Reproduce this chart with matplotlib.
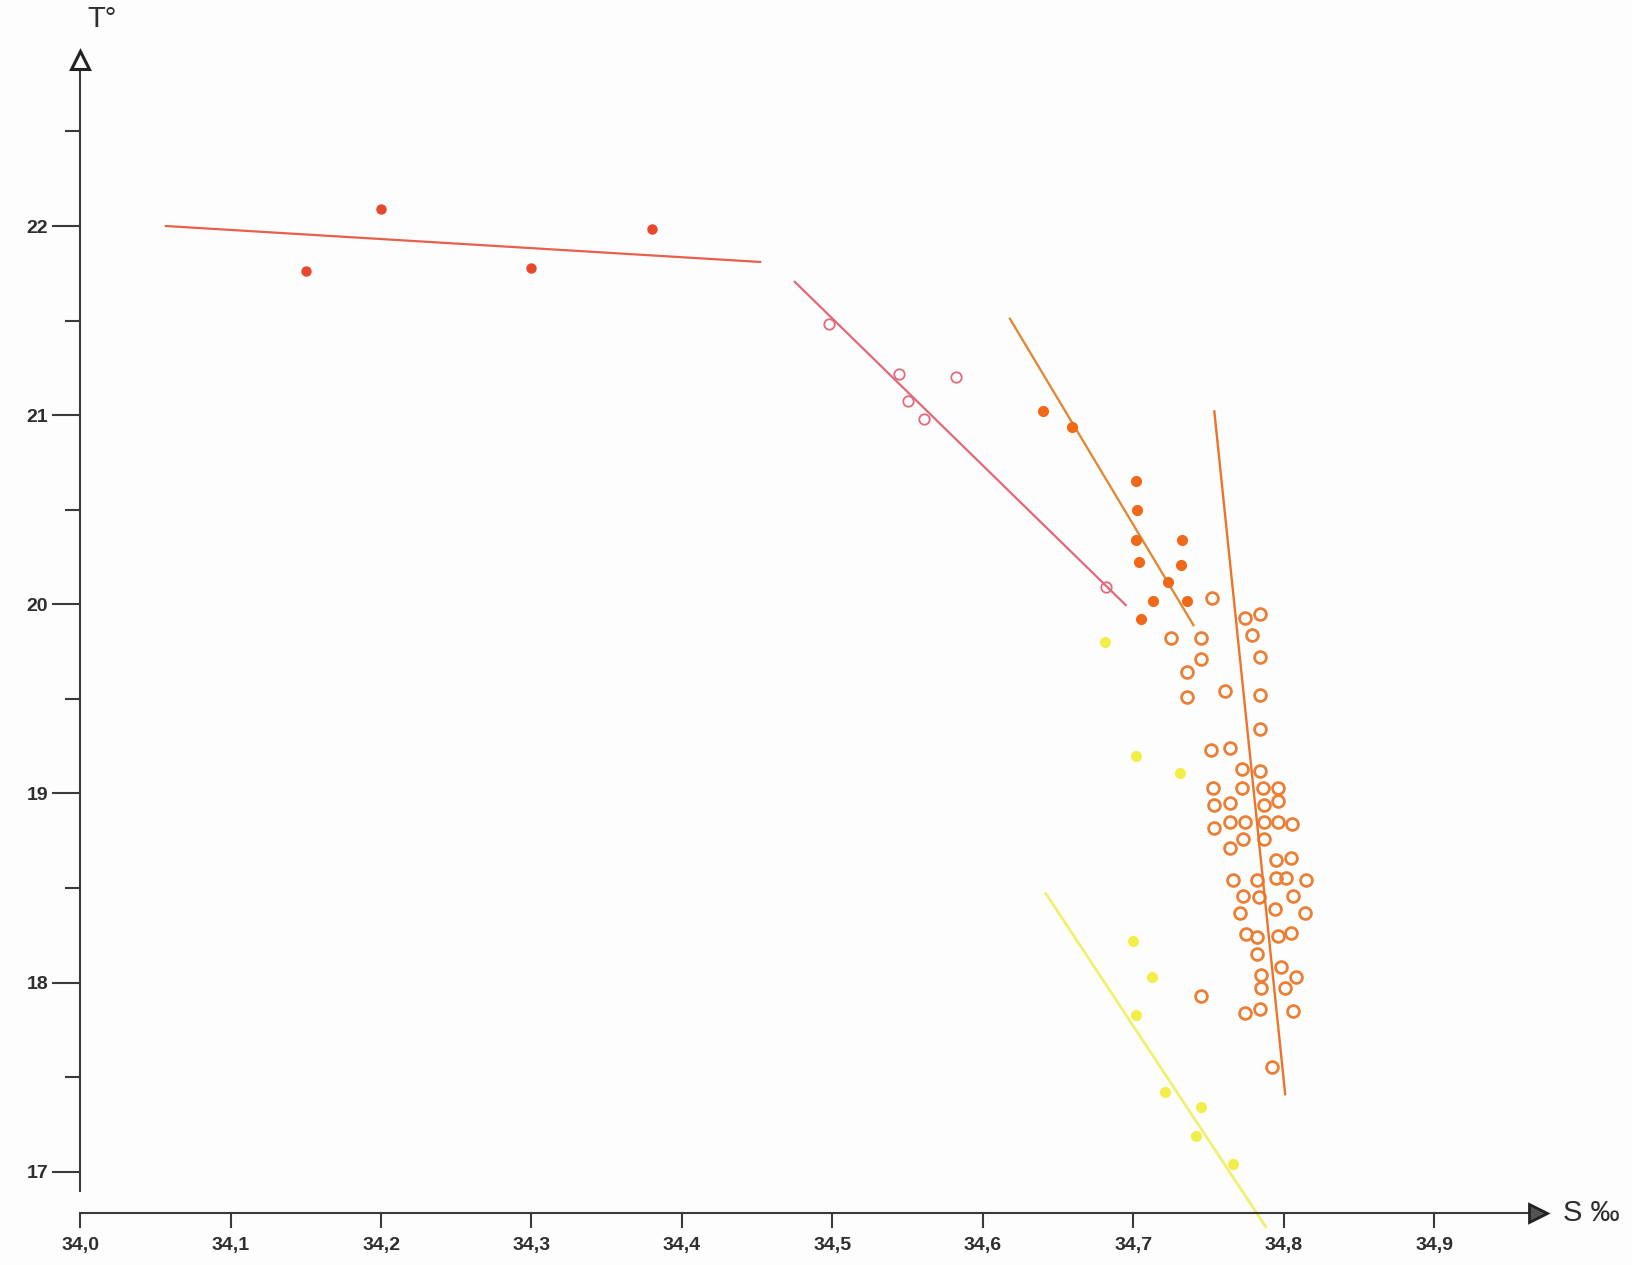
import matplotlib
matplotlib.use("Agg")
import matplotlib.pyplot as plt

plt.rcParams['font.family'] = ['Liberation Sans', 'DejaVu Sans']

# axis ticks
y_major = [17, 18, 19, 20, 21, 22]
y_minor = [17.5, 18.5, 19.5, 20.5, 21.5, 22.5]
x_ticks = [34.0, 34.1, 34.2, 34.3, 34.4, 34.5, 34.6, 34.7, 34.8, 34.9]
x_labels = ["34,0", "34,1", "34,2", "34,3", "34,4", "34,5", "34,6", "34,7", "34,8", "34,9"]

# group 1 - red filled dots
red_s = [34.150, 34.200, 34.300, 34.380]
red_t = [21.76, 22.09, 21.78, 21.985]
red_line_s = [34.057, 34.452]
red_line_t = [22.0, 21.81]

# group 2 - pink open circles
pink_s = [34.498, 34.544, 34.550, 34.561, 34.582, 34.682]
pink_t = [21.48, 21.22, 21.075, 20.98, 21.20, 20.09]
pink_line_s = [34.475, 34.695]
pink_line_t = [21.705, 19.996]

# group 3 - orange filled dots
orf_s = [34.640, 34.659, 34.7015, 34.7025, 34.7015, 34.704, 34.7324, 34.732,
         34.723, 34.713, 34.736, 34.705]
orf_t = [21.02, 20.94, 20.65, 20.50, 20.34, 20.225, 20.34, 20.21,
         20.12, 20.02, 20.02, 19.92]
orf_line_s = [34.618, 34.740]
orf_line_t = [21.51, 19.89]

# group 4 - orange open circles
oro_s = [34.7526, 34.774, 34.784, 34.779, 34.725, 34.745, 34.745, 34.784,
         34.736, 34.736, 34.761, 34.784, 34.784, 34.752, 34.764, 34.772,
         34.784, 34.753, 34.772, 34.786, 34.796, 34.754, 34.764, 34.787,
         34.796, 34.754, 34.764, 34.7745, 34.787, 34.796, 34.8055, 34.773,
         34.787, 34.764, 34.795, 34.805, 34.766, 34.782, 34.795, 34.8016,
         34.815, 34.773, 34.7836, 34.806, 34.771, 34.794, 34.814, 34.775,
         34.7825, 34.796, 34.805, 34.782, 34.798, 34.785, 34.808, 34.785,
         34.8006, 34.745, 34.7745, 34.784, 34.806, 34.792]
oro_t = [20.035, 19.93, 19.95, 19.84, 19.82, 19.82, 19.71, 19.72,
         19.64, 19.51, 19.54, 19.52, 19.34, 19.23, 19.24, 19.13,
         19.12, 19.03, 19.03, 19.03, 19.03, 18.94, 18.95, 18.94,
         18.96, 18.82, 18.85, 18.85, 18.85, 18.85, 18.84, 18.76,
         18.76, 18.71, 18.65, 18.66, 18.54, 18.54, 18.555, 18.555,
         18.54, 18.46, 18.45, 18.46, 18.37, 18.39, 18.37, 18.255,
         18.24, 18.245, 18.26, 18.15, 18.08, 18.04, 18.03, 17.97,
         17.97, 17.93, 17.84, 17.86, 17.85, 17.555]
oro_line_s = [34.7539, 34.801]
oro_line_t = [21.02, 17.41]

# group 5 - yellow dots
yel_s = [34.681, 34.702, 34.731, 34.6996, 34.7127, 34.7016, 34.721, 34.745,
         34.742, 34.766]
yel_t = [19.80, 19.20, 19.11, 18.22, 18.03, 17.83, 17.42, 17.34,
         17.19, 17.04]
yel_line_s = [34.642, 34.788]
yel_line_t = [18.47, 16.71]

axis_col = '#3a3a3a'
text_col = '#2e2e2e'

fig = plt.figure(figsize=(16.33, 12.65), dpi=100, facecolor='#fdfdfd')
ax = fig.add_axes([0, 0, 1, 1])
ax.set_facecolor('#fdfdfd')
ax.set_xlim(33.9467, 35.0322)
ax.set_ylim(16.507, 23.195)

# axes drawn as spines at data positions
for side in ['top', 'right']:
    ax.spines[side].set_visible(False)
ax.spines['left'].set_position(('data', 34.0))
ax.spines['left'].set_bounds(16.9, 22.86)
ax.spines['bottom'].set_position(('data', 16.78))
ax.spines['bottom'].set_bounds(34.0, 34.965)
for side in ['left', 'bottom']:
    ax.spines[side].set_color(axis_col)
    ax.spines[side].set_linewidth(1.5)

ax.set_yticks(y_major)
ax.set_yticklabels([str(v) for v in y_major])
ax.set_yticks(y_minor, minor=True)
ax.set_xticks(x_ticks)
ax.set_xticklabels(x_labels)
ax.tick_params(axis='y', which='major', direction='out', length=20, width=1.5,
               color=axis_col, pad=3, labelsize=14, labelcolor=text_col)
ax.tick_params(axis='y', which='minor', direction='out', length=11, width=1.5,
               color=axis_col)
ax.tick_params(axis='x', which='major', direction='out', length=11, width=1.5,
               color=axis_col, pad=6, labelsize=14, labelcolor=text_col)
for lab in ax.get_xticklabels() + ax.get_yticklabels():
    lab.set_fontweight('bold')

# arrow heads
ax.plot([34.0], [22.88], marker='^', markersize=13, markerfacecolor='white',
        markeredgecolor='#222222', markeredgewidth=2.2, clip_on=False, zorder=5)
ax.plot([34.969], [16.78], marker='>', markersize=13, markerfacecolor='#555555',
        markeredgecolor='#222222', markeredgewidth=2.0, clip_on=False, zorder=5)

ax.text(34.0 + 0.005, 23.02, "T°", fontsize=21, color=text_col,
        ha='left', va='bottom')
ax.text(34.986, 16.78, "S ‰", fontsize=21, color=text_col,
        ha='left', va='center')

# lines
ax.plot(red_line_s, red_line_t, color='#e8604c', lw=1.6, zorder=2)
ax.plot(pink_line_s, pink_line_t, color='#e26878', lw=1.6, zorder=2)
ax.plot(orf_line_s, orf_line_t, color='#e08a38', lw=1.7, zorder=2)
ax.plot(oro_line_s, oro_line_t, color='#ee7228', lw=1.7, zorder=4)
ax.plot(yel_line_s, yel_line_t, color='#f0f070', lw=2.0, zorder=2, clip_on=False)

# points
ax.plot(red_s, red_t, 'o', markersize=6.5, color='#e8472e', zorder=3)
ax.plot(pink_s, pink_t, 'o', markersize=7.5, markerfacecolor='none',
        markeredgecolor='#e06a7c', markeredgewidth=1.3, zorder=3)
ax.plot(orf_s, orf_t, 'o', markersize=7, color='#f06818', zorder=3)
ax.plot(oro_s, oro_t, 'o', markersize=8.5, markerfacecolor='none',
        markeredgecolor='#ea7f35', markeredgewidth=2.0, zorder=3)
ax.plot(yel_s, yel_t, 'o', markersize=7, color='#f2ee48', zorder=3)

fig.savefig('out.png', dpi=100, facecolor=fig.get_facecolor())
